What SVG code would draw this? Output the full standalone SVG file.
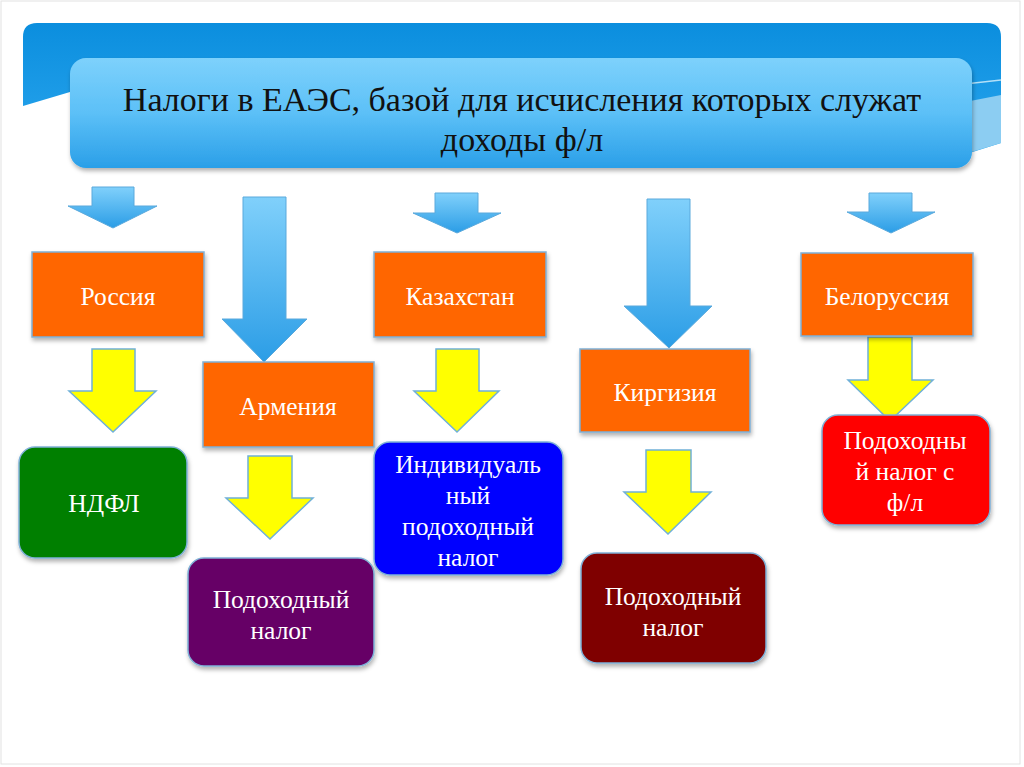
<svg xmlns="http://www.w3.org/2000/svg" width="1024" height="767" viewBox="0 0 1024 767">
<defs>
<linearGradient id="gBanner" x1="0" y1="0" x2="0" y2="1">
<stop offset="0" stop-color="#0b8ede"/>
<stop offset="1" stop-color="#2aa6ee"/>
</linearGradient>
<linearGradient id="gTitle" x1="0" y1="0" x2="0" y2="1">
<stop offset="0" stop-color="#7dd1fc"/>
<stop offset="0.5" stop-color="#5cc0f7"/>
<stop offset="1" stop-color="#2a9fe8"/>
</linearGradient>
<linearGradient id="gArrow" x1="0" y1="0" x2="0" y2="1">
<stop offset="0" stop-color="#80d0fb"/>
<stop offset="1" stop-color="#2b9de6"/>
</linearGradient>
<filter id="sh" x="-10%" y="-10%" width="120%" height="130%">
<feDropShadow dx="1" dy="3" stdDeviation="2" flood-color="#000" flood-opacity="0.3"/>
</filter>
<style>
.blueArrow{fill:url(#gArrow);stroke:#5aa9dc;stroke-width:1}
.yellowArrow{fill:#ffff00;stroke:#6fb0d8;stroke-width:1.5}
.orange{fill:#ff6600;stroke:#7fb0d6;stroke-width:1.5}
.rbox{stroke:#7fb0d6;stroke-width:1.5}
.t{font-family:"Liberation Serif","Times New Roman",serif;fill:#ffffff;text-anchor:middle;font-size:25.5px}
.title{font-family:"Liberation Serif","Times New Roman",serif;fill:#111111;text-anchor:middle;font-size:34px}
</style>
</defs>
<rect x="0" y="0" width="1024" height="767" fill="#ffffff"/>
<rect x="1" y="1" width="1019" height="763" fill="none" stroke="#e2e2e2" stroke-width="1"/>

<g id="banner">
<path d="M23,37 Q23,23 37,23 H987 Q1001,23 1001,37 V143 L960,156 C 700,150 400,80 70,92 L23,106 Z" fill="url(#gBanner)"/>
<path d="M965,102 L1001,95 V143 L965,154 Z" fill="#8ccdf2"/>
<path d="M965,84 L1001,80" stroke="#b3e0f8" stroke-width="1.5" fill="none"/>
</g>

<g id="title">
<rect x="70" y="58" width="902" height="110" rx="16" ry="16" fill="url(#gTitle)" filter="url(#sh)"/>
<text class="title" x="522" y="111">Налоги в ЕАЭС, базой для исчисления которых служат</text>
<text class="title" x="522" y="151">доходы ф/л</text>
</g>

<g id="connectors">
<path class="blueArrow" d="M92,187 H134 V206 H157 L113,228 L68,206 H92 Z"/>
<path class="blueArrow" d="M243,197 H286 V319 H307 L264,362 L222,319 H243 Z"/>
<path class="blueArrow" d="M435,193 H478 V213 H501 L457,233 L413,213 H435 Z"/>
<path class="blueArrow" d="M647,199 H690 V306 H712 L669,348 L624,306 H647 Z"/>
<path class="blueArrow" d="M869,193 H912 V212 H935 L891,233 L847,212 H869 Z"/>
<path class="yellowArrow" d="M92,349 H135 V391 H156 L113,432 L69,391 H92 Z"/>
<path class="yellowArrow" d="M248,456 H292 V498 H313 L270,539 L226,498 H248 Z"/>
<path class="yellowArrow" d="M436,349 H479 V391 H499 L457,432 L414,391 H436 Z"/>
<path class="yellowArrow" d="M646,450 H691 V492 H711 L668,534 L624,492 H646 Z"/>
<path class="yellowArrow" d="M868,337 H912 V380 H933 L890,421 L848,380 H868 Z"/>
</g>

<g id="russia">
<rect class="orange" x="32" y="252" width="172" height="85" filter="url(#sh)"/>
<text class="t" x="118" y="305">Россия</text>
</g>
<g id="armenia">
<rect class="orange" x="203" y="362" width="171" height="85" filter="url(#sh)"/>
<text class="t" x="288" y="415">Армения</text>
</g>
<g id="kazakhstan">
<rect class="orange" x="374" y="252" width="172" height="85" filter="url(#sh)"/>
<text class="t" x="460" y="305">Казахстан</text>
</g>
<g id="kirgizia">
<rect class="orange" x="580" y="349" width="170" height="83" filter="url(#sh)"/>
<text class="t" x="665" y="401">Киргизия</text>
</g>
<g id="belorussia">
<rect class="orange" x="801" y="253" width="172" height="83" filter="url(#sh)"/>
<text class="t" x="887" y="305">Белоруссия</text>
</g>

<g id="ndfl">
<rect class="rbox" x="19" y="447" width="168" height="111" rx="16" fill="#007f00" filter="url(#sh)"/>
<text class="t" x="104" y="512">НДФЛ</text>
</g>
<g id="armenia-tax">
<rect class="rbox" x="188" y="558" width="186" height="108" rx="16" fill="#660066" filter="url(#sh)"/>
<text class="t" x="281" y="608">Подоходный</text>
<text class="t" x="281" y="639">налог</text>
</g>
<g id="kazakhstan-tax">
<rect class="rbox" x="374" y="442" width="189" height="133" rx="16" fill="#0000ff" filter="url(#sh)"/>
<text class="t" x="468" y="473">Индивидуаль</text>
<text class="t" x="468" y="504">ный</text>
<text class="t" x="468" y="535">подоходный</text>
<text class="t" x="468" y="566">налог</text>
</g>
<g id="kirgizia-tax">
<rect class="rbox" x="581" y="553" width="185" height="110" rx="16" fill="#7f0000" filter="url(#sh)"/>
<text class="t" x="673" y="605">Подоходный</text>
<text class="t" x="673" y="636">налог</text>
</g>
<g id="belorussia-tax">
<rect class="rbox" x="822" y="415" width="168" height="110" rx="16" fill="#ff0000" filter="url(#sh)"/>
<text class="t" x="905" y="449">Подоходны</text>
<text class="t" x="905" y="480">й налог с</text>
<text class="t" x="905" y="511">ф/л</text>
</g>
</svg>
